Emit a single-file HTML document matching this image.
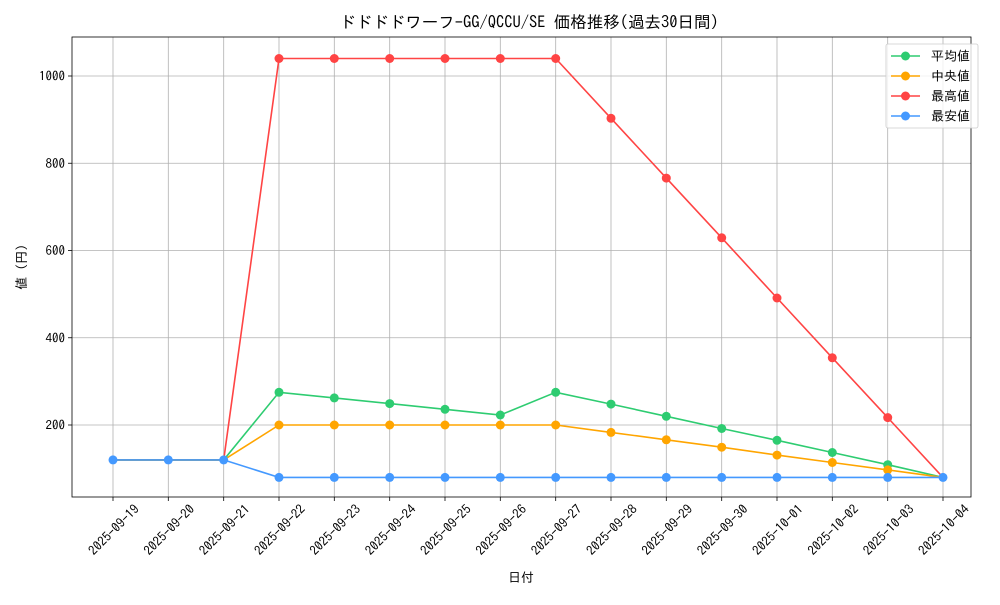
<!DOCTYPE html>
<html><head><meta charset="utf-8"><style>
body{margin:0;background:#fff}
svg text{font-family:"IPAGothic","Noto Sans CJK JP",sans-serif;font-size:13px;fill:#000}
</style></head><body>
<svg width="1000" height="600" xmlns="http://www.w3.org/2000/svg">
<rect width="1000" height="600" fill="#fff"/>
<g stroke="#b0b0b0" stroke-width="0.8">
<line x1="113" y1="37" x2="113" y2="497"/><line x1="168.3" y1="37" x2="168.3" y2="497"/><line x1="223.7" y1="37" x2="223.7" y2="497"/><line x1="279" y1="37" x2="279" y2="497"/><line x1="334.3" y1="37" x2="334.3" y2="497"/><line x1="389.7" y1="37" x2="389.7" y2="497"/><line x1="445" y1="37" x2="445" y2="497"/><line x1="500.3" y1="37" x2="500.3" y2="497"/><line x1="555.7" y1="37" x2="555.7" y2="497"/><line x1="611" y1="37" x2="611" y2="497"/><line x1="666.3" y1="37" x2="666.3" y2="497"/><line x1="721.7" y1="37" x2="721.7" y2="497"/><line x1="777" y1="37" x2="777" y2="497"/><line x1="832.3" y1="37" x2="832.3" y2="497"/><line x1="887.7" y1="37" x2="887.7" y2="497"/><line x1="943" y1="37" x2="943" y2="497"/>
<line x1="72" y1="425" x2="971" y2="425"/><line x1="72" y1="337.75" x2="971" y2="337.75"/><line x1="72" y1="250.5" x2="971" y2="250.5"/><line x1="72" y1="163.25" x2="971" y2="163.25"/><line x1="72" y1="76" x2="971" y2="76"/>
</g>
<g stroke="#000" stroke-width="0.8">
<line x1="113" y1="497" x2="113" y2="501"/><line x1="168.3" y1="497" x2="168.3" y2="501"/><line x1="223.7" y1="497" x2="223.7" y2="501"/><line x1="279" y1="497" x2="279" y2="501"/><line x1="334.3" y1="497" x2="334.3" y2="501"/><line x1="389.7" y1="497" x2="389.7" y2="501"/><line x1="445" y1="497" x2="445" y2="501"/><line x1="500.3" y1="497" x2="500.3" y2="501"/><line x1="555.7" y1="497" x2="555.7" y2="501"/><line x1="611" y1="497" x2="611" y2="501"/><line x1="666.3" y1="497" x2="666.3" y2="501"/><line x1="721.7" y1="497" x2="721.7" y2="501"/><line x1="777" y1="497" x2="777" y2="501"/><line x1="832.3" y1="497" x2="832.3" y2="501"/><line x1="887.7" y1="497" x2="887.7" y2="501"/><line x1="943" y1="497" x2="943" y2="501"/>
<line x1="68" y1="425" x2="72" y2="425"/><line x1="68" y1="337.75" x2="72" y2="337.75"/><line x1="68" y1="250.5" x2="72" y2="250.5"/><line x1="68" y1="163.25" x2="72" y2="163.25"/><line x1="68" y1="76" x2="72" y2="76"/>
</g>
<g text-anchor="end">
<text x="65" y="429.5">200</text><text x="65" y="342.25">400</text><text x="65" y="255">600</text><text x="65" y="167.75">800</text><text x="65" y="80.5">1000</text>
</g>
<g text-anchor="end">
<text transform="translate(140,510) rotate(-45)">2025-09-19</text>
<text transform="translate(195.3,510) rotate(-45)">2025-09-20</text>
<text transform="translate(250.7,510) rotate(-45)">2025-09-21</text>
<text transform="translate(306,510) rotate(-45)">2025-09-22</text>
<text transform="translate(361.3,510) rotate(-45)">2025-09-23</text>
<text transform="translate(416.7,510) rotate(-45)">2025-09-24</text>
<text transform="translate(472,510) rotate(-45)">2025-09-25</text>
<text transform="translate(527.3,510) rotate(-45)">2025-09-26</text>
<text transform="translate(582.7,510) rotate(-45)">2025-09-27</text>
<text transform="translate(638,510) rotate(-45)">2025-09-28</text>
<text transform="translate(693.3,510) rotate(-45)">2025-09-29</text>
<text transform="translate(748.7,510) rotate(-45)">2025-09-30</text>
<text transform="translate(804,510) rotate(-45)">2025-10-01</text>
<text transform="translate(859.3,510) rotate(-45)">2025-10-02</text>
<text transform="translate(914.7,510) rotate(-45)">2025-10-03</text>
<text transform="translate(970,510) rotate(-45)">2025-10-04</text>
</g>
<text x="521" y="582" text-anchor="middle">日付</text>
<text transform="translate(26,267) rotate(-90)" text-anchor="middle">値 (円)</text>
<text x="529" y="28" text-anchor="middle" style="font-size:16.5px">ドドドドワーフ-GG/QCCU/SE 価格推移(過去30日間)</text>
<g fill="none" stroke-width="1.6">
<polyline stroke="#ff4444" points="113,459.9 168.3,459.9 223.7,459.9 279,58.5 334.3,58.5 389.7,58.5 445,58.5 500.3,58.5 555.7,58.5 611,118.3 666.3,178.1 721.7,237.8 777,298 832.3,357.8 887.7,417.6 943,477.4"/>
<polyline stroke="#2ecc71" points="113,459.9 168.3,459.9 223.7,459.9 279,392.3 334.3,397.9 389.7,403.6 445,409.3 500.3,415 555.7,392.3 611,404.1 666.3,416.3 721.7,428.5 777,440.3 832.3,452.5 887.7,464.7 943,477.4"/>
<polyline stroke="#ffa500" points="113,459.9 168.3,459.9 223.7,459.9 279,425 334.3,425 389.7,425 445,425 500.3,425 555.7,425 611,432.4 666.3,439.8 721.7,447.2 777,455.1 832.3,462.5 887.7,469.9 943,477.4"/>
<polyline stroke="#4499ff" points="113,459.9 168.3,459.9 223.7,459.9 279,477.4 334.3,477.4 389.7,477.4 445,477.4 500.3,477.4 555.7,477.4 611,477.4 666.3,477.4 721.7,477.4 777,477.4 832.3,477.4 887.7,477.4 943,477.4"/>
</g>
<g fill="#ff4444"><circle cx="279" cy="58.5" r="4.5"/><circle cx="334.3" cy="58.5" r="4.5"/><circle cx="389.7" cy="58.5" r="4.5"/><circle cx="445" cy="58.5" r="4.5"/><circle cx="500.3" cy="58.5" r="4.5"/><circle cx="555.7" cy="58.5" r="4.5"/><circle cx="611" cy="118.3" r="4.5"/><circle cx="666.3" cy="178.1" r="4.5"/><circle cx="721.7" cy="237.8" r="4.5"/><circle cx="777" cy="298" r="4.5"/><circle cx="832.3" cy="357.8" r="4.5"/><circle cx="887.7" cy="417.6" r="4.5"/></g>
<g fill="#2ecc71"><circle cx="279" cy="392.3" r="4.5"/><circle cx="334.3" cy="397.9" r="4.5"/><circle cx="389.7" cy="403.6" r="4.5"/><circle cx="445" cy="409.3" r="4.5"/><circle cx="500.3" cy="415" r="4.5"/><circle cx="555.7" cy="392.3" r="4.5"/><circle cx="611" cy="404.1" r="4.5"/><circle cx="666.3" cy="416.3" r="4.5"/><circle cx="721.7" cy="428.5" r="4.5"/><circle cx="777" cy="440.3" r="4.5"/><circle cx="832.3" cy="452.5" r="4.5"/><circle cx="887.7" cy="464.7" r="4.5"/></g>
<g fill="#ffa500"><circle cx="279" cy="425" r="4.5"/><circle cx="334.3" cy="425" r="4.5"/><circle cx="389.7" cy="425" r="4.5"/><circle cx="445" cy="425" r="4.5"/><circle cx="500.3" cy="425" r="4.5"/><circle cx="555.7" cy="425" r="4.5"/><circle cx="611" cy="432.4" r="4.5"/><circle cx="666.3" cy="439.8" r="4.5"/><circle cx="721.7" cy="447.2" r="4.5"/><circle cx="777" cy="455.1" r="4.5"/><circle cx="832.3" cy="462.5" r="4.5"/><circle cx="887.7" cy="469.9" r="4.5"/></g>
<g fill="#4499ff"><circle cx="113" cy="459.9" r="4.5"/><circle cx="168.3" cy="459.9" r="4.5"/><circle cx="223.7" cy="459.9" r="4.5"/><circle cx="279" cy="477.4" r="4.5"/><circle cx="334.3" cy="477.4" r="4.5"/><circle cx="389.7" cy="477.4" r="4.5"/><circle cx="445" cy="477.4" r="4.5"/><circle cx="500.3" cy="477.4" r="4.5"/><circle cx="555.7" cy="477.4" r="4.5"/><circle cx="611" cy="477.4" r="4.5"/><circle cx="666.3" cy="477.4" r="4.5"/><circle cx="721.7" cy="477.4" r="4.5"/><circle cx="777" cy="477.4" r="4.5"/><circle cx="832.3" cy="477.4" r="4.5"/><circle cx="887.7" cy="477.4" r="4.5"/><circle cx="943" cy="477.4" r="4.5"/></g>
<rect x="72" y="37" width="899" height="460" fill="none" stroke="#000" stroke-width="0.8"/>
<rect x="886" y="44" width="92" height="84" rx="2" fill="#fff" fill-opacity="0.8" stroke="#ccc" stroke-width="0.8"/>
<g stroke-width="1.6">
<line x1="891" y1="56" x2="920" y2="56" stroke="#2ecc71"/><circle cx="905.5" cy="56" r="4.5" fill="#2ecc71"/>
<line x1="891" y1="76" x2="920" y2="76" stroke="#ffa500"/><circle cx="905.5" cy="76" r="4.5" fill="#ffa500"/>
<line x1="891" y1="96" x2="920" y2="96" stroke="#ff4444"/><circle cx="905.5" cy="96" r="4.5" fill="#ff4444"/>
<line x1="891" y1="116" x2="920" y2="116" stroke="#4499ff"/><circle cx="905.5" cy="116" r="4.5" fill="#4499ff"/>
</g>
<text x="931" y="60.5">平均値</text><text x="931" y="80.5">中央値</text><text x="931" y="100.5">最高値</text><text x="931" y="120.5">最安値</text>
</svg>
</body></html>
